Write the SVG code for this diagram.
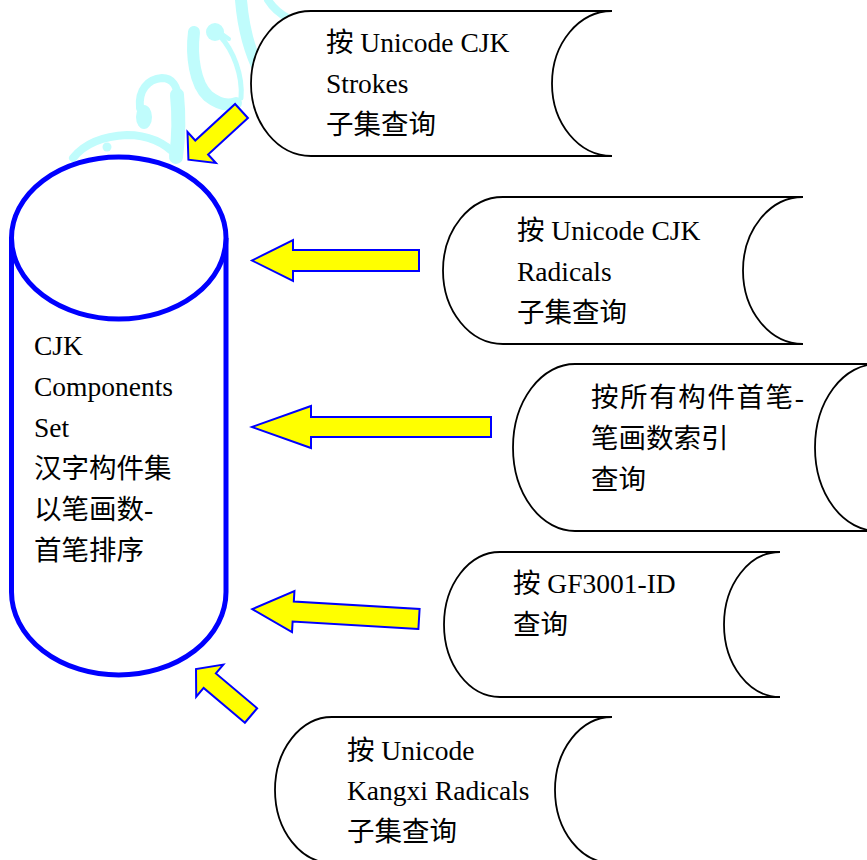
<svg xmlns="http://www.w3.org/2000/svg" width="867" height="860" viewBox="0 0 867 860">
  <style>
    .wm { fill: none; stroke: #C0FCFC; stroke-linecap: round; stroke-linejoin: round; }
    .wmf { fill: #C0FCFC; stroke: none; }
    .store { fill: #FFFFFF; stroke: #000000; stroke-width: 1.8; }
    .db { fill: #FFFFFF; stroke: #0000FF; stroke-width: 5; }
    .arrow { fill: #FFFF00; stroke: #0000FF; stroke-width: 2; stroke-linejoin: miter; }
    .t { font-family: "Liberation Serif", "Noto Sans CJK SC", serif; font-size: 27.5px; fill: #000000; }
  </style>
  <defs>
    <polygon id="diagArrow" points="0,-9.5 54,-9.5 54,-21 72,0 54,21 54,9.5 0,9.5"/>
  </defs>

  <!-- watermark decoration -->
  <g id="watermark">
    <path class="wm" stroke-width="8" d="M73,158 C85,143 105,136 127,135 C148,135 165,143 177,156"/>
    <circle class="wmf" cx="107" cy="147" r="4.5"/>
    <ellipse class="wmf" cx="144" cy="117" rx="8" ry="12"/>
    <path class="wm" stroke-width="8" d="M140,108 C138,90 148,79 162,78 C172,78 178,86 178,100"/>
    <path class="wm" stroke-width="14" d="M177,95 C179,115 179,135 176,157"/>
    <path class="wm" stroke-width="12" d="M194,32 C191,56 195,84 208,96 C218,104 228,106 236,103"/>
    <circle class="wmf" cx="215" cy="32" r="9"/>
    <path class="wm" stroke-width="4" d="M222,34 L229,39"/>
    <path class="wm" stroke-width="5" d="M220,36 C233,50 243,75 241,98"/>
    <path class="wm" stroke-width="12" d="M241,0 C243,25 250,55 264,80"/>
    <path class="wm" stroke-width="8" d="M268,0 C273,8 280,14 288,18"/>
  </g>

  <!-- connectors (block arrows) -->
  <g id="connectors">
    <use href="#diagArrow" class="arrow" transform="translate(241.5,111) rotate(137.5)"/>
    <polygon class="arrow" points="419,250 293,250 293,240 252,260.5 293,281 293,271 419,271"/>
    <polygon class="arrow" points="491,417 311,417 311,406 252,427 311,448 311,437 491,437"/>
    <polygon class="arrow" transform="translate(419,619) rotate(183.4)" points="0,-10 126,-10 126,-20.5 167,0 126,20.5 126,10 0,10"/>
    <use href="#diagArrow" class="arrow" transform="translate(251,715.5) rotate(220.2)"/>
  </g>

  <!-- central database cylinder -->
  <g id="node-cjk-components">
    <path class="db" d="M11.5,238 V592 A107.25 83 0 0 0 226,592 V238"/>
    <ellipse class="db" cx="118.75" cy="238" rx="107.25" ry="81"/>
    <text class="t" x="34" y="355">CJK</text>
    <text class="t" x="34" y="396">Components</text>
    <text class="t" x="34" y="437">Set</text>
    <text class="t" x="34" y="478">汉字构件集</text>
    <text class="t" x="34" y="519">以笔画数-</text>
    <text class="t" x="34" y="560">首笔排序</text>
  </g>

  <g id="node-strokes">
    <path class="store" d="M311,11 H612 A60 72.5 0 0 0 612,156 H311 A60 72.5 0 0 1 311,11 Z"/>
    <text class="t" x="326" y="52">按 Unicode CJK</text>
    <text class="t" x="326" y="93">Strokes</text>
    <text class="t" x="326" y="134">子集查询</text>
  </g>

  <g id="node-radicals">
    <path class="store" d="M503,197 H803 A60 73.5 0 0 0 803,344 H503 A60 73.5 0 0 1 503,197 Z"/>
    <text class="t" x="517" y="240">按 Unicode CJK</text>
    <text class="t" x="517" y="281">Radicals</text>
    <text class="t" x="517" y="322">子集查询</text>
  </g>

  <g id="node-index">
    <path class="store" d="M575,364 H877 A62 83.5 0 0 0 877,531 H575 A62 83.5 0 0 1 575,364 Z"/>
    <text class="t" x="591" y="407" letter-spacing="1.6">按所有构件首笔-</text>
    <text class="t" x="591" y="448">笔画数索引</text>
    <text class="t" x="591" y="489">查询</text>
  </g>

  <g id="node-gf3001">
    <path class="store" d="M500,552 H780 A56 72.5 0 0 0 780,697 H500 A56 72.5 0 0 1 500,552 Z"/>
    <text class="t" x="513" y="593">按 GF3001-ID</text>
    <text class="t" x="513" y="634">查询</text>
  </g>

  <g id="node-kangxi">
    <path class="store" d="M332,717 H612 A57 73 0 0 0 612,863 H332 A57 73 0 0 1 332,717 Z"/>
    <text class="t" x="347" y="760">按 Unicode</text>
    <text class="t" x="347" y="800">Kangxi Radicals</text>
    <text class="t" x="347" y="841">子集查询</text>
  </g>
</svg>
